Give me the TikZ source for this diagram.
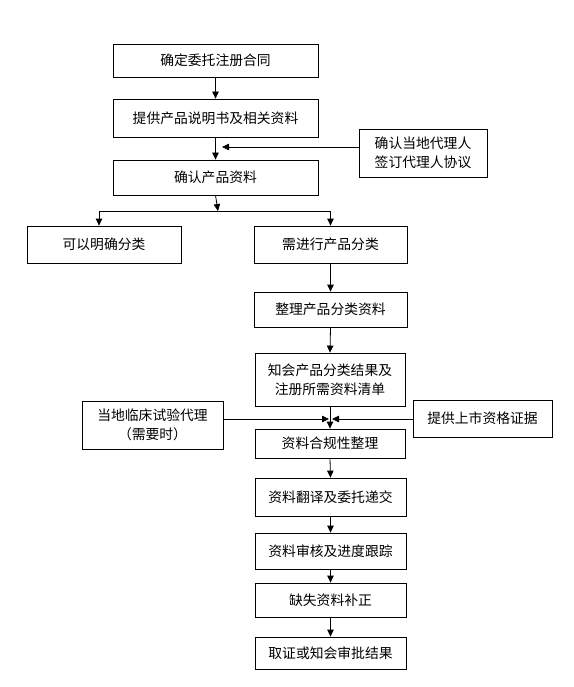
\documentclass[tikz,border=0pt]{standalone}
\usepackage{fontspec}
\setmainfont{Noto Sans CJK SC}
\usetikzlibrary{arrows.meta}
\begin{document}
\begin{tikzpicture}[x=1pt,y=-1pt,
  box/.style={draw, line width=0.8pt, inner sep=0pt, align=center, font=\fontsize{13.8}{19}\selectfont},
  arr/.style={line width=0.8pt, -{Triangle[length=7pt,width=6.5pt]}},
  ln/.style={line width=0.8pt}]
\useasboundingbox (0,0) rectangle (573,687);
\newcommand{\bx}[6]{\node[box, minimum width=#4-#2, minimum height=#5-#3] (#1) at ({(#2+#4)/2},{(#3+#5)/2}) {#6};}
\bx{b1}{113}{44}{318}{77}{确定委托注册合同}
\bx{b2}{113}{99}{318}{137}{提供产品说明书及相关资料}
\bx{b3}{113}{160}{318}{195}{确认产品资料}
\bx{s1}{359}{129}{487}{177}{确认当地代理人\\签订代理人协议}
\bx{c1}{27}{226}{181}{263}{可以明确分类}
\bx{c2}{254}{226}{407}{263}{需进行产品分类}
\bx{c3}{254}{292}{407}{327}{整理产品分类资料}
\bx{c4}{255}{353}{405}{406}{知会产品分类结果及\\注册所需资料清单}
\bx{l1}{82}{401}{223}{449}{当地临床试验代理\\（需要时）}
\bx{r1}{413}{400}{552}{437}{提供上市资格证据}
\bx{c5}{255}{429}{405}{458}{资料合规性整理}
\bx{c6}{255}{478}{406}{516}{资料翻译及委托递交}
\bx{c7}{255}{533}{406}{569}{资料审核及进度跟踪}
\bx{c8}{255}{583}{406}{617}{缺失资料补正}
\bx{c9}{255}{637}{406}{669}{取证或知会审批结果}
% connectors
\draw[arr] (b1.south) -- (b2.north);
\draw[arr] (b2.south) -- (b3.north);
\coordinate (m1) at (222,147);
\draw[arr] (s1.west |- m1) -- (m1);
\coordinate (j) at (218,211);
\draw[arr] (b3.south) -- (j);
\coordinate (jl) at (99,211);
\coordinate (jr) at (330.5,211);
\draw[ln] (jl) -- (jr);
\draw[arr] (jl) -- (jl |- c1.north);
\draw[arr] (jr) -- (c2.north);
\draw[arr] (c2.south) -- (c3.north);
\draw[arr] (c3.south) -- (c4.north);
\draw[arr] (c4.south) -- (c5.north);
\coordinate (ml) at (329,419);
\coordinate (mr) at (332,419);
\draw[arr] (l1.east |- ml) -- (ml);
\draw[arr] (r1.west |- mr) -- (mr);
\draw[arr] (c5.south) -- (c6.north);
\draw[arr] (c6.south) -- (c7.north);
\draw[arr] (c7.south) -- (c8.north);
\draw[arr] (c8.south) -- (c9.north);
\end{tikzpicture}
\end{document}
